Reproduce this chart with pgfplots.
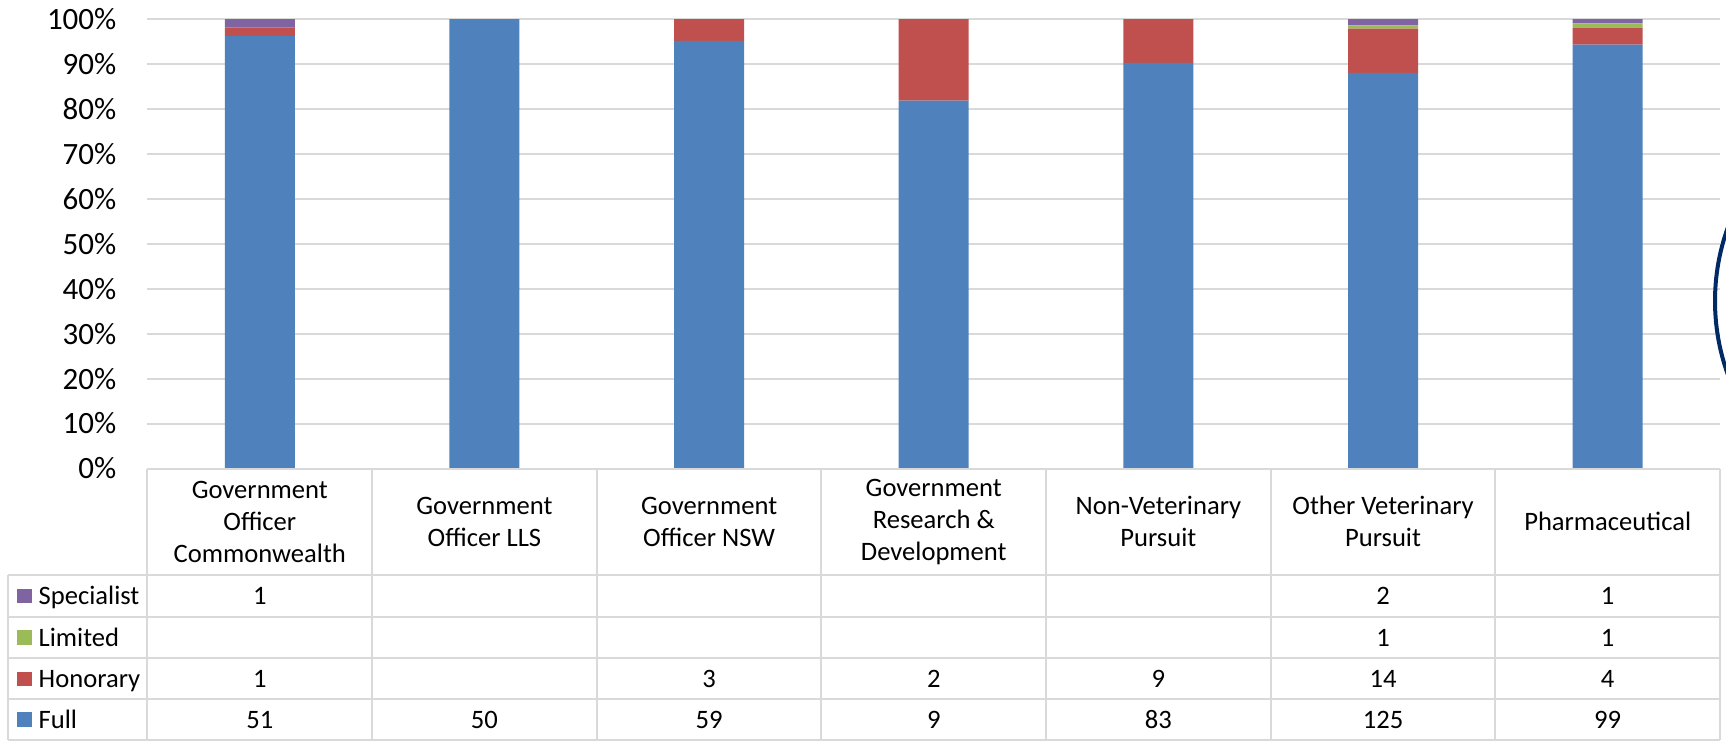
\documentclass[border=0pt]{standalone}
\usepackage{pgfplots}
\pgfplotsset{compat=1.18}
\usepackage{fontspec}
\setmainfont{Carlito}
\definecolor{cFull}{HTML}{4F81BD}
\definecolor{cHon}{HTML}{C0504D}
\definecolor{cLim}{HTML}{9BBB59}
\definecolor{cSpec}{HTML}{8064A2}
\definecolor{gridc}{HTML}{D9D9D9}
\definecolor{navyc}{RGB}{0,42,102}
\newcommand{\tfont}{\fontsize{13.3}{16}\selectfont}
\begin{document}
\begin{tikzpicture}
\begin{axis}[
  at={(0,0)}, anchor=south west,
  scale only axis, width=786.25pt, height=224.75pt,
  xmin=-0.5, xmax=6.5, ymin=0, ymax=100,
  ybar stacked, bar width=35pt,
  axis line style={draw=none},
  xtick=\empty,
  ytick={0,10,...,100},
  yticklabel={\pgfmathprintnumber{\tick}\%},
  /pgf/number format/assume math mode=true,
  yticklabel style={font=\fontsize{15.5}{18}\selectfont, inner sep=0pt, anchor=east, xshift=-15.4pt},
  major tick length=0pt,
  ymajorgrids, grid style={gridc, line width=1pt},
]
% Full
\addplot[fill=cFull, draw=none] coordinates {(0,96.226) (1,100) (2,95.161) (3,81.818) (4,90.217) (5,88.028) (6,94.286)};
% Honorary
\addplot[fill=cHon, draw=none] coordinates {(0,1.887) (1,0) (2,4.839) (3,18.182) (4,9.783) (5,9.859) (6,3.810)};
% Limited
\addplot[fill=cLim, draw=none] coordinates {(0,0) (1,0) (2,0) (3,0) (4,0) (5,0.704) (6,0.952)};
% Specialist
\addplot[fill=cSpec, draw=none] coordinates {(0,1.887) (1,0) (2,0) (3,0) (4,0) (5,1.408) (6,0.952)};
\end{axis}
\begin{scope}[x=0.5pt, y=-0.5pt, shift={(-73.75pt,234.25pt)}]
  % table grid
  \draw[gridc, line width=1pt] (147.5,468.5) -- (1720,468.5);
  \foreach \yy in {575,616.7,658.3,699.3,739.5}
    \draw[gridc, line width=1pt] (8.5,\yy) -- (1720,\yy);
  \draw[gridc, line width=1pt] (8.5,575) -- (8.5,739.5);
  \foreach \k in {0,...,7}
    \draw[gridc, line width=1pt] ({147.5+\k*224.643},468.5) -- ({147.5+\k*224.643},739.5);
  % category labels
  \node[font=\tfont, align=center] at ({147.5+224.643*0.5},521.75) {Government\\Officer\\Commonwealth};
  \node[font=\tfont, align=center] at ({147.5+224.643*1.5},521.75) {Government\\Officer LLS};
  \node[font=\tfont, align=center] at ({147.5+224.643*2.5},521.75) {Government\\Officer NSW};
  \node[font=\tfont, align=center] at ({147.5+224.643*3.5},521.75) {Government\\Research \&\\Development};
  \node[font=\tfont, align=center] at ({147.5+224.643*4.5},521.75) {Non-Veterinary\\Pursuit};
  \node[font=\tfont, align=center] at ({147.5+224.643*5.5},521.75) {Other Veterinary\\Pursuit};
  \node[font=\tfont, align=center] at ({147.5+224.643*6.5},521.75) {Pharmaceutical};
  % legend column
  \fill[cSpec] (17.3,588.9) rectangle (31.7,603.3);
  \node[font=\tfont, anchor=base west, inner sep=0pt] at (38.3,604.6) {Specialist};
  \fill[cLim] (17.3,630.3) rectangle (31.7,644.7);
  \node[font=\tfont, anchor=base west, inner sep=0pt] at (38.3,646.1) {Limited};
  \fill[cHon] (17.3,671.6) rectangle (31.7,686);
  \node[font=\tfont, anchor=base west, inner sep=0pt] at (38.3,687.4) {Honorary};
  \fill[cFull] (17.3,712.4) rectangle (31.7,726.8);
  \node[font=\tfont, anchor=base west, inner sep=0pt] at (38.3,728.3) {Full};
  % values
  \foreach \c/\v in {0/1,5/2,6/1}
    \node[font=\tfont, anchor=base, inner sep=0pt] at ({147.5+224.643*(\c+0.5)},604.6) {\v};
  \foreach \c/\v in {5/1,6/1}
    \node[font=\tfont, anchor=base, inner sep=0pt] at ({147.5+224.643*(\c+0.5)},646.1) {\v};
  \foreach \c/\v in {0/1,2/3,3/2,4/9,5/14,6/4}
    \node[font=\tfont, anchor=base, inner sep=0pt] at ({147.5+224.643*(\c+0.5)},687.4) {\v};
  \foreach \c/\v in {0/51,1/50,2/59,3/9,4/83,5/125,6/99}
    \node[font=\tfont, anchor=base, inner sep=0pt] at ({147.5+224.643*(\c+0.5)},728.3) {\v};
  % decorative arc at right edge
  \begin{scope}
    \clip (0,0) rectangle (1726,741);
    \draw[navyc, line width=2pt] (1931,301) circle[radius=216];
  \end{scope}
  \pgfresetboundingbox
  \path[use as bounding box] (0,0) rectangle (1726,741);
\end{scope}
\end{tikzpicture}
\end{document}
